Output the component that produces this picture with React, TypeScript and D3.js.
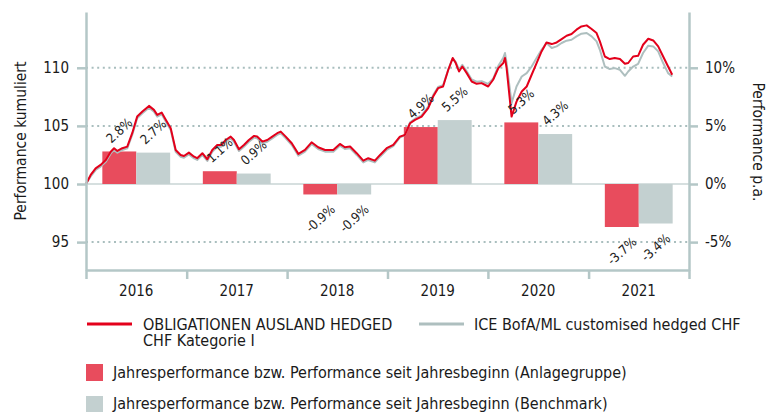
import { useRef, useEffect } from 'react';
import * as d3 from 'd3';

const YEARS = ['2016', '2017', '2018', '2019', '2020', '2021'];
const FUND_YEARLY = [2.8, 1.1, -0.9, 4.9, 5.3, -3.7];
const BENCH_YEARLY = [2.7, 0.9, -0.9, 5.5, 4.3, -3.4];

const DATES = [
  '2016-01-01', '2016-01-18', '2016-02-05', '2016-02-23', '2016-03-13', '2016-03-31', '2016-04-12', '2016-04-24',
  '2016-05-12', '2016-05-30', '2016-06-17', '2016-07-05', '2016-07-24', '2016-08-17', '2016-09-04', '2016-09-16',
  '2016-10-02', '2016-10-17', '2016-11-04', '2016-11-22', '2016-12-10', '2016-12-22',
  '2017-01-09', '2017-01-28', '2017-02-08', '2017-02-27', '2017-03-17', '2017-04-04', '2017-04-22', '2017-05-07',
  '2017-05-23', '2017-06-10', '2017-06-22', '2017-07-10', '2017-07-28', '2017-08-15', '2017-09-03', '2017-09-14',
  '2017-10-03', '2017-10-21', '2017-11-08', '2017-11-26', '2017-12-09', '2017-12-27',
  '2018-01-18', '2018-02-11', '2018-03-07', '2018-03-31', '2018-04-24', '2018-05-19', '2018-06-18', '2018-07-12',
  '2018-07-30', '2018-08-18', '2018-09-11', '2018-10-05', '2018-10-23', '2018-11-16', '2018-12-05', '2018-12-29',
  '2019-01-22', '2019-02-15', '2019-03-05', '2019-03-24', '2019-04-11', '2019-05-05', '2019-05-29', '2019-06-16',
  '2019-07-04', '2019-07-22', '2019-08-10', '2019-08-26', '2019-09-06', '2019-09-18', '2019-09-30', '2019-10-16',
  '2019-11-03', '2019-11-21', '2019-12-09',
  '2020-01-02', '2020-01-20', '2020-02-08', '2020-02-26', '2020-03-03', '2020-03-09', '2020-03-27', '2020-04-14',
  '2020-05-03', '2020-05-21', '2020-06-08', '2020-06-26', '2020-07-14', '2020-08-01', '2020-08-20', '2020-09-07',
  '2020-09-25', '2020-10-13', '2020-10-31', '2020-11-18', '2020-12-06', '2020-12-25',
  '2021-01-12', '2021-01-30', '2021-02-11', '2021-03-01', '2021-03-19', '2021-04-06', '2021-04-25', '2021-05-13',
  '2021-05-25', '2021-06-12', '2021-06-30', '2021-07-18', '2021-08-06', '2021-08-24', '2021-09-11', '2021-09-29',
  '2021-10-17', '2021-11-01',
];

const FUND_CUM = [
  100.0, 100.78, 101.35, 101.64, 102.07, 102.78, 103.08, 102.84, 103.08, 103.22, 104.37, 105.8, 106.23, 106.72,
  106.38, 105.95, 106.15, 105.52, 104.8, 102.93, 102.5, 102.41,
  102.7, 102.35, 102.22, 102.65, 102.13, 102.93, 103.36, 103.36, 103.79, 104.08, 103.79, 102.99, 103.36, 103.79,
  104.14, 104.08, 103.65, 103.79, 104.08, 104.37, 104.51, 104.08,
  103.51, 102.59, 102.93, 103.59, 103.16, 102.93, 102.93, 103.45, 103.16, 103.22, 102.65, 102.01, 102.22, 102.01,
  102.5, 103.08,
  103.36, 104.08, 104.22, 105.23, 105.52, 105.8, 106.53, 107.53, 108.25, 108.39, 109.83, 110.84, 110.41, 109.68,
  110.11, 109.54, 108.82, 108.62, 108.68,
  108.39, 108.97, 109.97, 110.41, 110.84, 109.97, 105.8, 107.09, 107.96, 108.39, 109.4, 110.41, 111.41, 112.18,
  112.04, 112.18, 112.47, 112.76, 112.91, 113.28, 113.56, 113.65,
  113.34, 112.99, 112.27, 110.97, 110.75, 110.84, 110.75, 110.34, 110.41, 110.97, 111.03, 111.98, 112.5, 112.35,
  111.84, 110.97, 110.11, 109.4,
];

const BENCH_CUM = [
  100.0, 100.65, 101.2, 101.5, 101.92, 102.63, 102.93, 102.69, 102.93, 103.07, 104.22, 105.65, 106.08, 106.57,
  106.23, 105.8, 106.0, 105.37, 104.65, 102.78, 102.35, 102.26,
  102.55, 102.2, 102.07, 102.5, 101.98, 102.78, 103.21, 103.21, 103.64, 103.93, 103.64, 102.84, 103.21, 103.64,
  103.99, 103.93, 103.5, 103.64, 103.93, 104.22, 104.36, 103.93,
  103.36, 102.44, 102.78, 103.44, 103.01, 102.78, 102.78, 103.3, 103.01, 103.07, 102.5, 101.86, 102.07, 101.86,
  102.35, 102.93,
  103.25, 104.0, 104.2, 105.3, 105.62, 105.9, 106.65, 107.65, 108.35, 108.5, 109.85, 110.8, 110.5, 109.85,
  110.25, 109.7, 109.0, 108.8, 108.85,
  108.62, 109.05, 110.17, 110.86, 111.27, 110.41, 106.96, 108.39, 109.25, 109.54, 110.11, 110.84, 111.55, 112.13,
  111.7, 111.84, 112.13, 112.33, 112.41, 112.7, 112.93, 112.99,
  112.7, 112.27, 111.55, 110.11, 109.89, 109.97, 109.83, 109.31, 109.68, 110.11, 110.34, 111.27, 111.9, 111.84,
  111.41, 110.41, 109.54, 109.25,
];

const LEFT_TICKS = [95, 100, 105, 110];
const RIGHT_TICKS = [-5, 0, 5, 10];

const FUND_NAME = ['OBLIGATIONEN AUSLAND HEDGED', 'CHF Kategorie I'];
const BENCH_NAME = 'ICE BofA/ML customised hedged CHF';
const BAR_LEGEND = [
  'Jahresperformance bzw. Performance seit Jahresbeginn (Anlagegruppe)',
  'Jahresperformance bzw. Performance seit Jahresbeginn (Benchmark)',
];

const RED_LINE = '#e3001b';
const GREY_LINE = '#aebfbf';
const RED_BAR = '#e84c5d';
const GREY_BAR = '#c3d0d0';
const AXIS = '#b4c7c7';
const FONT = "'DejaVu Sans Condensed', 'DejaVu Sans', sans-serif";

export default function App() {
  const svgRef = useRef(null);

  useEffect(() => {
    document.body.style.margin = '0';
    const svg = d3.select(svgRef.current);
    svg.selectAll('*').remove();

    const left = 86, right = 689, top = 12, bottom = 270;
    const parse = d3.timeParse('%Y-%m-%d');

    const x = d3.scaleTime().domain([new Date(2016, 0, 1), new Date(2022, 0, 1)]).range([left, right]);
    const y = d3.scaleLinear().domain([92.6, 114.8]).range([bottom, top]);
    const yPct = d3.scaleLinear().domain([-7.4, 14.8]).range([bottom, top]);
    const band = d3.scaleBand().domain(YEARS).range([left, right]).paddingInner(0.325).paddingOuter(0.1625);
    const sub = d3.scaleBand().domain(['fund', 'bench']).range([0, band.bandwidth()]);

    // grid
    const grid = svg.append('g');
    LEFT_TICKS.forEach(t => {
      grid.append('line')
        .attr('x1', left).attr('x2', right).attr('y1', y(t)).attr('y2', y(t))
        .attr('stroke', t === 100 ? '#c9d5d5' : '#a9bebe')
        .attr('stroke-width', t === 100 ? 1.5 : 2)
        .attr('stroke-dasharray', t === 100 ? null : '2,3.6');
    });

    // bars
    const bars = svg.append('g');
    YEARS.forEach((yr, i) => {
      [['fund', FUND_YEARLY[i], RED_BAR], ['bench', BENCH_YEARLY[i], GREY_BAR]].forEach(([k, v, c]) => {
        const val = v as number;
        bars.append('rect')
          .attr('x', band(yr) + sub(k as string))
          .attr('width', sub.bandwidth())
          .attr('y', yPct(Math.max(0, val)))
          .attr('height', Math.abs(yPct(val) - yPct(0)))
          .attr('fill', c as string);
      });
    });

    // lines
    const pts = (vals) => DATES.map((d, i) => [parse(d), vals[i]]);
    const line = d3.line().x(d => x(d[0])).y(d => y(d[1])).curve(d3.curveLinear);
    svg.append('path').attr('d', line(pts(BENCH_CUM))).attr('fill', 'none')
      .attr('stroke', GREY_LINE).attr('stroke-width', 2).attr('stroke-linejoin', 'round');
    svg.append('path').attr('d', line(pts(FUND_CUM))).attr('fill', 'none')
      .attr('stroke', RED_LINE).attr('stroke-width', 2).attr('stroke-linejoin', 'round');

    // bar labels
    const labels = svg.append('g').style('font-family', FONT).style('font-size', '13px').attr('fill', '#222');
    YEARS.forEach((yr, i) => {
      [['fund', FUND_YEARLY[i]], ['bench', BENCH_YEARLY[i]]].forEach(([k, v]) => {
        const val = v as number;
        const cx = band(yr) + sub(k as string) + sub.bandwidth() / 2;
        const cy = val >= 0 ? yPct(val) - 21 : yPct(val) + 24;
        labels.append('text')
          .attr('transform', `translate(${cx},${cy}) rotate(-42)`)
          .attr('text-anchor', 'middle').attr('dy', '0.35em')
          .text(`${val.toFixed(1)}%`);
      });
    });

    // axes
    const styleAxis = (g) => {
      g.select('.domain').attr('stroke', AXIS).attr('stroke-width', 2.5);
      g.selectAll('.tick line').attr('stroke', AXIS).attr('stroke-width', 2.5);
      g.selectAll('.tick text').attr('fill', '#1a1a1a').style('font-family', FONT).style('font-size', '15px');
    };
    svg.append('g').attr('transform', `translate(${left},0)`)
      .call(d3.axisLeft(y).tickValues(LEFT_TICKS).tickSize(9).tickSizeOuter(0).tickPadding(8).tickFormat(d3.format('d')))
      .call(styleAxis);
    svg.append('g').attr('transform', `translate(${right},0)`)
      .call(d3.axisRight(yPct).tickValues(RIGHT_TICKS).tickSize(9).tickSizeOuter(0).tickPadding(7).tickFormat(d => `${d}%`))
      .call(styleAxis);
    svg.append('g').attr('transform', `translate(0,${bottom})`)
      .call(d3.axisBottom(x).ticks(d3.timeYear.every(1)).tickSize(9).tickSizeOuter(0).tickFormat(() => ''))
      .call(styleAxis);

    svg.append('g').selectAll('text').data(YEARS).enter().append('text')
      .attr('x', d => band(d) + band.bandwidth() / 2).attr('y', 296)
      .attr('text-anchor', 'middle').attr('fill', '#1a1a1a')
      .style('font-family', FONT).style('font-size', '15px')
      .text(d => d);

    // axis titles
    svg.append('text').attr('transform', 'translate(26,141) rotate(-90)')
      .attr('text-anchor', 'middle').attr('fill', '#1a1a1a')
      .style('font-family', FONT).style('font-size', '15.5px').text('Performance kumuliert');
    svg.append('text').attr('transform', 'translate(753,142) rotate(90)')
      .attr('text-anchor', 'middle').attr('fill', '#1a1a1a')
      .style('font-family', FONT).style('font-size', '15.5px').text('Performance p.a.');

    // legend
    const lg = svg.append('g').style('font-family', FONT).style('font-size', '16px').attr('fill', '#1a1a1a');
    lg.append('line').attr('x1', 87).attr('x2', 132).attr('y1', 324).attr('y2', 324)
      .attr('stroke', RED_LINE).attr('stroke-width', 3);
    FUND_NAME.forEach((t, i) => lg.append('text').attr('x', 143).attr('y', 330 + i * 16).text(t));
    lg.append('line').attr('x1', 419).attr('x2', 464).attr('y1', 324).attr('y2', 324)
      .attr('stroke', GREY_LINE).attr('stroke-width', 3);
    lg.append('text').attr('x', 474).attr('y', 330).text(BENCH_NAME);
    [RED_BAR, GREY_BAR].forEach((c, i) => {
      lg.append('rect').attr('x', 86).attr('y', 364 + i * 32).attr('width', 17).attr('height', 17).attr('fill', c);
      lg.append('text').attr('x', 113).attr('y', 378 + i * 31).text(BAR_LEGEND[i]);
    });
  }, []);

  return (
    <svg ref={svgRef} width={778} height={412} style={{ display: 'block' }} />
  );
}
